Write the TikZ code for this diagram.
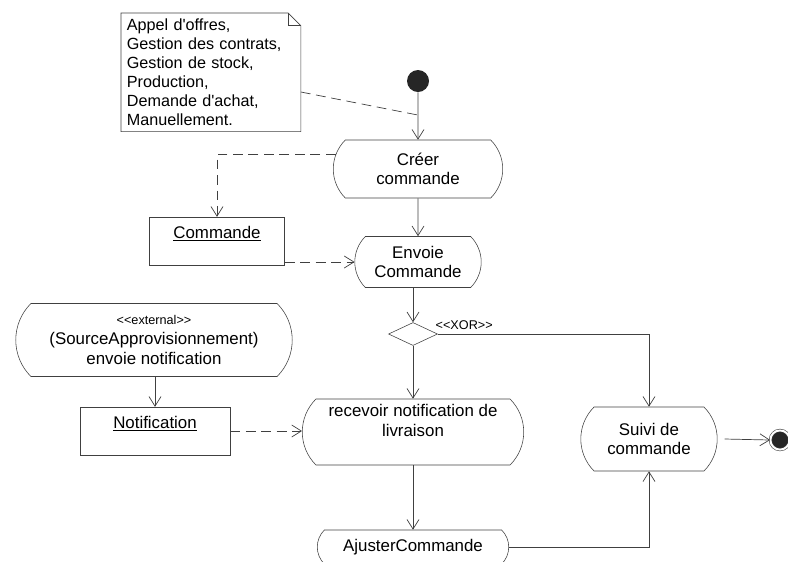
\documentclass[tikz,border=0pt]{standalone}
\usepackage{fontspec}
\setmainfont{Liberation Sans}
\usetikzlibrary{arrows.meta,positioning,shapes.geometric,shapes.misc,calc}
\tikzset{
  activity/.style={draw=black!75, rounded rectangle, rounded rectangle arc length=90, align=center, inner sep=2pt, font=\fontsize{12}{14}\selectfont},
  objbox/.style={draw=black!75, rectangle, align=center, inner sep=3pt, text height=12pt, text depth=16pt, font=\fontsize{12}{14}\selectfont},
  notebox/.style={align=left, text width=4.2cm, inner sep=4pt, font=\fontsize{11.5}{13.5}\selectfont},
  notedge/.style={draw=black!75, line width=0.5pt},
  initial/.style={circle, fill=black!85, minimum size=0.55cm, inner sep=0pt},
  final/.style={circle, fill=black!85, draw=black!75, double=white, double distance=1.4pt, minimum size=0.48cm, inner sep=0pt},
  decision/.style={draw=black!75, diamond, minimum width=1.225cm, minimum height=0.575cm, inner sep=0pt},
  arrow/.style={-{Straight Barb[length=2.4mm, width=3mm]}, draw=black!75, line width=0.5pt},
  dashedarrow/.style={-{Straight Barb[length=2.4mm, width=3mm]}, draw=black!75, line width=0.5pt, dash pattern=on 7pt off 4pt},
  notelink/.style={draw=black!75, line width=0.5pt, dash pattern=on 7pt off 4pt}
}
\begin{document}
\begin{tikzpicture}[x=0.025cm,y=-0.025cm]
  \useasboundingbox (0,0) rectangle (788,561);

  \node[notebox, anchor=north west] (note) at (121,13)
    {Appel d\textquotesingle offres,\\Gestion des contrats,\\Gestion de stock,\\Production,\\Demande d\textquotesingle achat,\\Manuellement.};
  \draw[notedge] (note.north west) -- ([xshift=-9pt]note.north east) -- ([yshift=-9pt]note.north east) -- (note.south east) -- (note.south west) -- cycle;
  \draw[notedge] ([xshift=-9pt]note.north east) |- ([yshift=-9pt]note.north east);

  \node[initial] (start) at (418,81) {};
  \node[activity, minimum width=4.375cm, minimum height=1.45cm] (cree) at (418,169) {Créer\\commande};
  \node[objbox, minimum width=3.375cm] (commande) at (217,241) {\underline{Commande}};
  \node[activity, minimum width=3.3cm, minimum height=1.275cm] (envoie) at (418,262) {Envoie\\Commande};
  \node[decision] (xor) at (413,334) {};
  \node[font=\fontsize{9}{10}\selectfont, anchor=south west, inner sep=1pt] (xorlabel) at (434,331) {<\kern0pt<XOR>\kern0pt>};

  \node[activity, minimum width=7.05cm, minimum height=1.825cm] (source) at (154,340)
    {{\fontsize{9}{10}\selectfont <\kern0pt<external>\kern0pt>}\\(SourceApprovisionnement)\\envoie notification};
  \node[objbox, minimum width=3.75cm] (notif) at (155,431) {\underline{Notification}};
  \node[activity, minimum width=5.675cm, minimum height=1.65cm, text depth=17pt] (recevoir) at (413,432) {recevoir notification de\\livraison};
  \node[activity, minimum width=3.55cm, minimum height=1.6cm] (suivi) at (649,439) {Suivi de\\commande};
  \node[final] (fin) at (780,440) {};
  \node[activity, minimum width=4.925cm, minimum height=0.85cm] (ajuster) at (413,547) {AjusterCommande};

  \coordinate (notepin) at ($(start.south)!0.48!(cree.north)$);
  \draw[notelink] ([yshift=-14pt]note.east) -- (notepin);

  \draw[arrow] (start) -- (cree);
  \draw[arrow] (cree) -- (envoie);
  \draw[dashedarrow] (cree.170) -| (commande.north);
  \draw[dashedarrow] (envoie.west -| commande.east) -- (envoie.west);
  \draw[arrow] (envoie.south -| xor.north) -- (xor.north);
  \draw[arrow] (xor.east) -| (suivi.north);
  \draw[arrow] (xor.south) -- (recevoir.north);
  \draw[arrow] (source.south -| notif.north) -- (notif.north);
  \draw[dashedarrow] (notif.east) -- (notif.east -| recevoir.west);
  \draw[arrow] (recevoir.south) -- (ajuster.north);
  \draw[arrow] (ajuster.east) -| (suivi.south);
  \draw[arrow] ([xshift=5pt]suivi.east) -- (fin.west);
\end{tikzpicture}
\end{document}
